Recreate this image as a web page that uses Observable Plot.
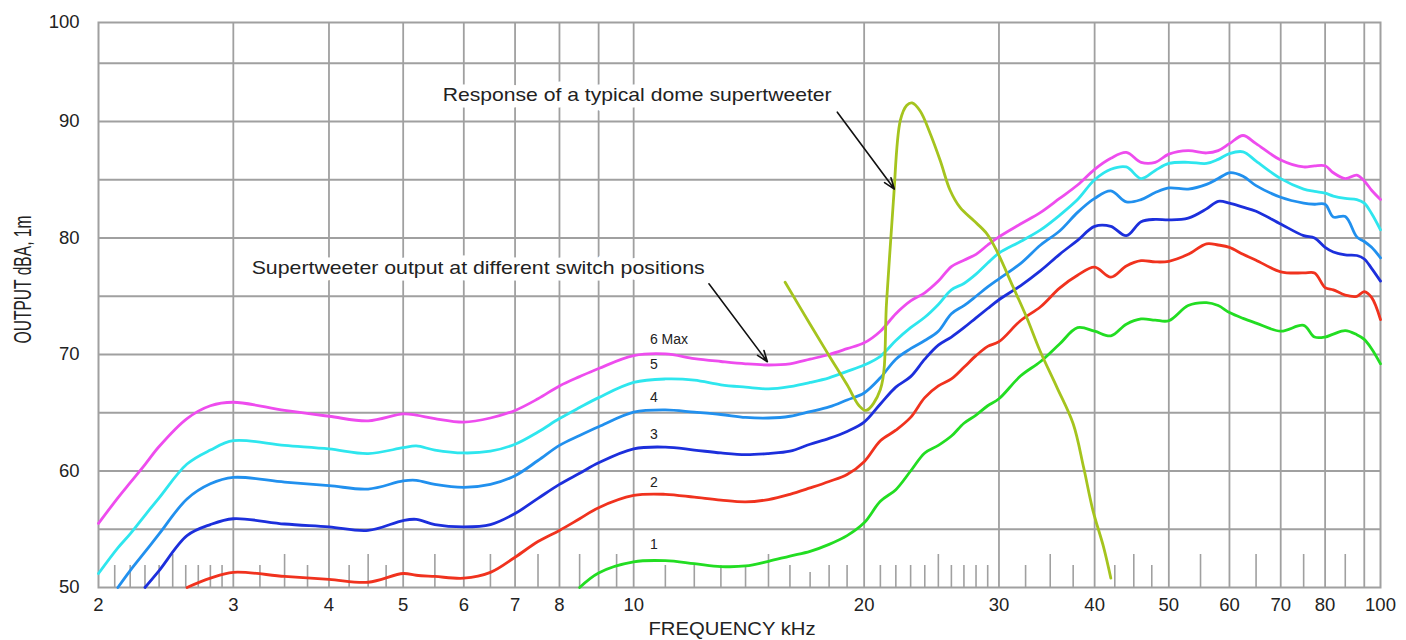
<!DOCTYPE html>
<html>
<head>
<meta charset="utf-8">
<script src="https://cdn.jsdelivr.net/npm/d3@7"></script>
<script src="https://cdn.jsdelivr.net/npm/@observablehq/plot@0.6"></script>
<style>
  html, body { margin: 0; padding: 0; background: #fff; overflow: hidden; }
</style>
</head>
<body>
<div id="chart"></div>
<script>
// ---------------- data ----------------
const freqKHz = [2, 2.12, 2.2, 2.3, 2.4, 2.61, 2.8, 3, 3.5, 4, 4.5, 5, 5.2, 5.5, 6, 6.5, 7, 7.5, 8, 8.5, 9, 10,
  11, 12, 13, 14, 15, 16, 17, 18, 19, 20, 21, 22, 23, 24, 25, 26, 27, 28, 29, 30,
  32, 34, 36, 38, 40, 42, 44, 46, 48, 50, 53, 56, 58, 60, 62.5, 65, 70, 75, 77.5, 80, 82, 85, 88, 90, 92, 94.5];

// switch position 1 (lowest) .. 6 (Max); null = below the 50 dB floor
const pos1 = [null, null, null, null, null, null, null, null, null, null, null, null, null, null, null, null, null, null, null, 50.0, 51.25, 52.2,
  52.3, 52.05, 51.8, 51.85, 52.25, 52.7, 53.1, 53.7, 54.45, 55.55, 57.4, 58.4, 60.0, 61.55, 62.2, 63.0, 64.1, 64.8, 65.6, 66.2,
  68.15, 69.4, 70.9, 72.3, 72.0, 71.6, 72.6, 73.05, 72.95, 72.9, 74.2, 74.45, 74.2, 73.6, 73.1, 72.7, 72.0, 72.5, 71.5, 71.5, 71.75, 72.05, 71.7, 71.3, 70.5, 69.2];
const pos2 = [null, null, null, null, null, 50.0, 50.8, 51.3, 50.95, 50.7, 50.45, 51.2, 51.05, 50.95, 50.8, 51.3, 52.6, 53.95, 54.9, 55.9, 56.85, 57.9,
  58.0, 57.75, 57.5, 57.35, 57.55, 58.0, 58.55, 59.1, 59.7, 60.8, 62.6, 63.5, 64.6, 66.3, 67.3, 67.9, 68.9, 69.9, 70.7, 71.1,
  72.9, 74.1, 75.7, 76.8, 77.5, 76.65, 77.6, 78.05, 77.95, 78.0, 78.6, 79.5, 79.4, 79.2, 78.6, 78.1, 77.1, 77.0, 77.0, 75.75, 75.55, 75.1, 75.0, 75.4, 74.9, 73.0];
const pos3 = [null, null, null, 50.0, 51.45, 54.45, 55.4, 55.9, 55.45, 55.2, 54.9, 55.75, 55.85, 55.4, 55.2, 55.4, 56.35, 57.65, 58.85, 59.8, 60.7, 61.9,
  62.05, 61.8, 61.55, 61.4, 61.5, 61.7, 62.3, 62.8, 63.4, 64.2, 65.75, 67.2, 68.1, 69.6, 70.8, 71.5, 72.3, 73.15, 73.95, 74.7,
  75.9, 77.2, 78.6, 79.8, 81.0, 81.0, 80.2, 81.4, 81.6, 81.55, 81.7, 82.5, 83.15, 83.0, 82.65, 82.3, 81.2, 80.2, 80.0, 79.2, 78.8, 78.55, 78.5, 78.2, 77.4, 76.3];
const pos4 = [null, 50.0, 51.45, 53.05, 54.6, 57.6, 58.9, 59.45, 59.05, 58.75, 58.45, 59.15, 59.2, 58.85, 58.6, 58.85, 59.6, 60.9, 62.2, 63.05, 63.8, 65.05,
  65.25, 65.05, 64.85, 64.6, 64.55, 64.7, 65.1, 65.5, 66.1, 66.7, 68.0, 69.6, 70.5, 71.2, 72.0, 73.5, 74.2, 75.0, 75.8, 76.5,
  77.8, 79.4, 80.6, 82.2, 83.4, 84.05, 83.1, 83.3, 83.9, 84.3, 84.2, 84.6, 85.1, 85.6, 85.3, 84.5, 83.5, 83.0, 82.9, 82.9, 81.8, 81.85, 80.1, 79.7, 79.2, 78.3];
const pos5 = [51.2, 53.4, 54.6, 56.2, 57.7, 60.6, 61.8, 62.6, 62.2, 61.9, 61.5, 62.0, 62.15, 61.8, 61.55, 61.7, 62.3, 63.35, 64.5, 65.45, 66.3, 67.6,
  67.9, 67.8, 67.4, 67.2, 67.05, 67.25, 67.6, 68.0, 68.55, 69.1, 69.85, 71.2, 72.3, 73.2, 74.3, 75.55, 76.1, 76.9, 77.85, 78.7,
  79.7, 80.7, 81.95, 83.3, 85.0, 85.9, 86.1, 85.1, 85.8, 86.4, 86.5, 86.4, 86.75, 87.25, 87.4, 86.6, 85.1, 84.2, 84.0, 83.85, 83.6, 83.4, 83.3, 83.0, 82.1, 80.7];
const pos6 = [55.5, 57.7, 59.0, 60.55, 62.1, 64.5, 65.6, 65.9, 65.2, 64.7, 64.3, 64.9, 64.8, 64.5, 64.2, 64.55, 65.2, 66.2, 67.3, 68.1, 68.8, 69.9,
  70.05, 69.65, 69.4, 69.2, 69.1, 69.2, 69.6, 70.0, 70.5, 71.0, 72.0, 73.5, 74.6, 75.3, 76.3, 77.55, 78.1, 78.6, 79.4, 80.1,
  81.2, 82.2, 83.4, 84.55, 85.9, 86.85, 87.35, 86.5, 86.5, 87.2, 87.5, 87.3, 87.5, 88.1, 88.8, 88.1, 86.7, 86.1, 86.2, 86.2, 85.6, 85.1, 85.4, 84.9, 84.1, 83.3];

const seriesNames = ["1", "2", "3", "4", "5", "6 Max"];
const seriesColors = ["#22dd22", "#f0321e", "#1c2fdc", "#2190ee", "#2ee6ee", "#ee4cee"];
const labelDb = [53.7, 59.05, 63.1, 66.3, 69.1, 71.3];
const labelFreqKHz = 10.5;

// typical dome supertweeter
const domeFreqKHz = [15.77, 17, 18, 19, 19.7, 20.12, 21, 21.4, 21.84, 22.3, 22.74, 23.1, 23.67, 24.4, 25.14, 25.9, 26.7, 27.8, 28.9, 29.8, 31.3, 32.6, 33.95, 35.7, 37.5, 38.7, 39.8, 41.1, 42.0];
const domeDb = [76.2, 72.6, 69.9, 67.4, 65.6, 65.2, 67.0, 74.6, 83.2, 90.1, 91.4, 91.6, 90.9, 88.95, 86.65, 84.1, 82.6, 81.5, 80.4, 78.9, 75.8, 73.2, 70.3, 67.2, 64.05, 60.3, 56.6, 53.45, 50.8];
const domeColor = "#a5c41e";

// axes
const xTickValues = [2, 3, 4, 5, 6, 7, 8, 10, 20, 30, 40, 50, 60, 70, 80];
const xTickLabels = ["2", "3", "4", "5", "6", "7", "8", "10", "20", "30", "40", "50", "60", "70", "80"];
const yTickValues = [50, 60, 70, 80, 90];
const yTickLabels = ["50", "60", "70", "80", "90"];
const edgeLabel = "100"; // the reference labels both cropped frame edges "100"
const xGridKHz = [3, 4, 5, 6, 7, 8, 9, 10, 20, 30, 40, 50, 60, 70, 80, 90];
const yGridDb = [55, 60, 65, 70, 75, 80, 85, 90, 95];
const minorShortKHz = [2.1, 2.2, 2.3, 2.4, 2.6, 2.7, 2.8, 2.9, 3.25, 3.75, 4.25, 4.75, 11, 12, 13, 14, 16, 18, 19, 21, 22, 23, 24, 26, 27, 28, 29, 32.5, 37.5, 42.5, 47.5];
const minorLongKHz = [2.5, 3.5, 4.5, 5.5, 6.5, 7.5, 8.5, 9.5, 15, 25, 35, 45, 55, 65, 75, 85];
const minorTinyKHz = [17];

// annotations
const noteTexts = ["Response of a typical dome supertweeter", "Supertweeter output at different switch positions"];
const noteFreqKHz = [5.63, 3.17];
const noteDb = [92.25, 77.45];
const arrowFromKHz = [18.45, 12.54];
const arrowFromDb = [90.8, 76.07];
const arrowToKHz = [21.9, 14.95];
const arrowToDb = [84.2, 69.38];
const xTitle = "FREQUENCY kHz";
const yTitle = "OUTPUT dBA, 1m";

// visible frame extent of the reference (it is cropped short of 100 kHz / 100 dB)
const X_MIN = 2, X_EDGE = 94.5, Y_MIN = 50, Y_EDGE = 98.5;

// ---------------- build tables ----------------
const seriesValues = [pos1, pos2, pos3, pos4, pos5, pos6];
const curveRows = [];
seriesValues.forEach((vals, s) => vals.forEach((v, i) => {
  if (v != null) curveRows.push({f: freqKHz[i], db: v, s: seriesNames[s]});
}));
const domeRows = domeFreqKHz.map((f, i) => ({f, db: domeDb[i]}));
const labelRows = seriesNames.map((name, i) => ({name, f: labelFreqKHz, db: labelDb[i]}));
const noteRows = noteTexts.map((text, i) => ({text, f: noteFreqKHz[i], db: noteDb[i]}));
const arrowRows = arrowFromKHz.map((f, i) => ({f1: f, d1: arrowFromDb[i], f2: arrowToKHz[i], d2: arrowToDb[i]}));

const W = 1406, H = 640, mL = 98, mR = 26, mT = 22, mB = 53;
const pxPerDb = (H - mT - mB) / (Y_EDGE - Y_MIN);
const GRID = "#a0a0a0";
const TEXT = "#222";
const minorRows = [
  ...minorShortKHz.map(f => ({f, len: 22})),
  ...minorLongKHz.map(f => ({f, len: 33})),
  ...minorTinyKHz.map(f => ({f, len: 15}))
];

const xTickRows = [...xTickValues.map((v, i) => ({v, t: xTickLabels[i]})), {v: X_EDGE, t: edgeLabel}];
const yTicks = [...yTickValues, Y_EDGE];
const yLabelMap = new Map(yTicks.map((v, i) => [v, i < yTickLabels.length ? yTickLabels[i] : edgeLabel]));

const lineMarks = seriesNames.map((name, s) =>
  Plot.line(curveRows.filter(d => d.s === name), {
    x: "f", y: "db", stroke: seriesColors[s], strokeWidth: 2.8, curve: "catmull-rom"
  })
);

const chart = Plot.plot({
  width: W, height: H,
  marginLeft: mL, marginRight: mR, marginTop: mT, marginBottom: mB,
  style: {
    fontFamily: '"Liberation Sans", Arial, Helvetica, sans-serif',
    fontSize: "18.5px", color: TEXT, background: "#fff", overflow: "visible"
  },
  x: {type: "log", domain: [X_MIN, X_EDGE], axis: null},
  y: {
    domain: [Y_MIN, Y_EDGE], ticks: yTicks,
    tickFormat: d => yLabelMap.get(d), tickSize: 0, tickPadding: 19, label: null
  },
  marks: [
    Plot.ruleY(yGridDb, {stroke: GRID, strokeWidth: 1.8}),
    Plot.ruleX(xGridKHz, {stroke: GRID, strokeWidth: 1.8}),
    Plot.ruleX(minorRows, {x: "f", y1: Y_MIN, y2: d => Y_MIN + d.len / pxPerDb, stroke: GRID, strokeWidth: 1.6}),
    Plot.frame({stroke: GRID, strokeWidth: 2}),
    // x tick labels
    Plot.text(xTickRows, {
      x: "v", text: "t", frameAnchor: "bottom", lineAnchor: "top", dy: 10,
      fontSize: 18.5, fill: TEXT
    }),
    Plot.text(noteRows, {
      x: "f", y: "db", text: "text", textAnchor: "start", lineAnchor: "middle",
      fontSize: 19, fill: TEXT, stroke: "#fff", strokeWidth: 13
    }),
    ...lineMarks,
    Plot.line(domeRows, {x: "f", y: "db", stroke: domeColor, strokeWidth: 2.8, curve: "catmull-rom"}),
    Plot.arrow(arrowRows, {
      x1: "f1", y1: "d1", x2: "f2", y2: "d2",
      stroke: "#111", strokeWidth: 1.6, headLength: 11, headAngle: 40
    }),
    Plot.text(labelRows, {
      x: "f", y: "db", text: "name", textAnchor: "start", lineAnchor: "middle",
      fontSize: 14, fill: TEXT
    }),
    Plot.text([xTitle], {
      text: d => d, frameAnchor: "bottom-left", textAnchor: "start", dx: 550, dy: 41, lineAnchor: "middle",
      fontSize: 19, fill: TEXT
    }),
    Plot.text([yTitle], {
      text: d => d, frameAnchor: "left", textAnchor: "start", rotate: -90, dx: -75, dy: 38.5, lineAnchor: "middle",
      fontSize: 23, fill: TEXT
    })
  ]
});

// fit text widths to the reference (its lettering is slightly stretched / condensed)
const fitWidths = {
  [noteTexts[0]]: 389,
  [noteTexts[1]]: 453,
  [xTitle]: 167,
  [yTitle]: 128
};
chart.querySelectorAll("text").forEach(t => {
  const w = fitWidths[t.textContent];
  if (w) {
    t.setAttribute("textLength", w);
    t.setAttribute("lengthAdjust", "spacingAndGlyphs");
  }
});

document.getElementById("chart").appendChild(chart);
</script>
</body>
</html>
